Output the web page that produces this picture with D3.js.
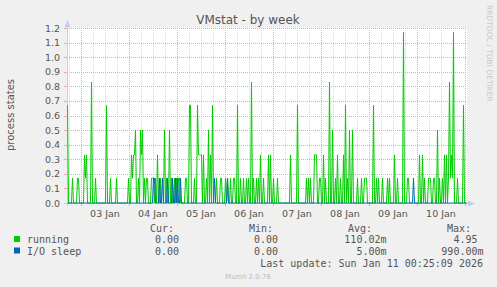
<!DOCTYPE html>
<html>
<head>
<meta charset="utf-8">
<script src="https://cdn.jsdelivr.net/npm/d3@7"></script>
<style>
  html, body { margin: 0; padding: 0; background: #f0f0f0; }
  svg { display: block; }
</style>
</head>
<body>
<div class="main-container"></div>
<script>
// 30 minute samples, 2026-01-02 17:00 UTC .. 2026-01-11 01:00 UTC
const sampleStart = Date.UTC(2026, 0, 2, 17, 0);
const sampleEnd = Date.UTC(2026, 0, 11, 1, 0);
const stepMs = 30 * 60 * 1000;

const running = [
  .67,0,0,0,0,.17,0,0,0,0,.17,.17,0,0,0,0,0,.33,.17,.33,
  0,0,0,0,.83,0,0,0,.17,0,0,0,0,0,0,0,0,0,0,.67,
  0,0,0,.17,0,0,0,0,0,.17,0,0,0,0,0,0,0,0,0,0,
  0,.17,0,0,.33,.17,.33,.33,.5,0,0,.17,0,.5,.33,.5,0,.17,0,.17,
  .17,0,0,0,.17,.17,.17,0,.17,0,.33,0,0,.17,0,0,0,.5,0,.17,
  0,0,.5,0,.17,0,0,.17,0,.17,0,.17,.17,0,0,0,0,0,.17,.17,
  0,0,.67,.67,0,0,0,.17,0,0,.67,.33,.33,.33,.33,0,.33,0,0,.17,
  0,.5,0,.33,0,.67,0,0,0,.17,0,0,0,.17,.17,0,0,0,.17,0,
  .17,0,0,.17,0,0,.17,.17,0,0,.67,0,0,.17,0,0,.17,0,0,.17,
  0,.17,0,0,.83,0,.17,0,0,.17,0,.17,0,.33,0,0,.17,0,0,0,
  0,.33,0,.33,0,0,.17,0,0,0,.17,0,0,0,0,0,0,0,0,0,
  0,0,0,.33,0,0,0,0,0,0,.67,0,0,0,0,0,0,0,0,.17,
  0,.17,0,.17,0,0,0,.33,.33,.33,0,0,.17,.17,0,0,.33,0,.17,0,
  0,0,.83,0,0,.5,0,0,.17,0,.33,0,0,.17,0,0,.33,0,.67,0,
  .17,0,.5,0,0,.5,0,0,0,0,.17,0,0,0,.17,0,0,.17,.17,.17,
  0,0,0,0,0,0,.67,0,0,.17,0,.17,0,0,0,.17,0,0,0,0,
  .17,0,.17,0,0,0,0,.33,0,0,.17,0,0,0,0,0,1.17,0,0,0,
  .17,.17,0,0,0,0,0,0,0,0,0,0,.33,0,0,.33,0,.17,0,0,
  0,.17,.17,.17,0,0,.17,.17,0,0,.5,0,.17,0,0,.17,0,.33,0,.33,
  0,.17,.83,.17,.33,.17,1.17,0,0,0,.17,0,0,0,0,0,.67,0,0,0
];

const ioSleep = [
  0,0,0,0,0,0,0,0,0,0,0,0,0,0,0,0,0,0,0,0,
  0,0,0,0,0,0,0,0,0,0,0,0,0,0,0,0,0,0,0,0,
  0,0,0,0,0,0,0,0,0,0,0,0,0,0,0,0,0,0,0,0,
  0,0,0,0,0,0,0,0,0,0,0,0,0,0,0,0,0,0,0,0,
  0,0,0,0,0,0,.17,.17,0,0,0,0,.17,0,0,.17,0,0,0,0,
  .17,0,0,0,0,.17,0,0,.17,0,.17,0,0,.17,0,0,0,0,0,0,
  0,0,0,0,0,0,0,0,0,0,0,0,0,0,0,0,0,0,0,0,
  0,0,0,0,0,0,0,.17,0,0,0,0,0,0,0,0,0,0,0,0,
  .17,0,0,0,0,0,0,0,0,0,0,0,0,0,0,0,0,0,0,0,
  0,0,0,0,0,0,0,0,0,0,0,0,0,0,0,0,0,0,0,0,
  0,0,0,0,0,0,0,0,0,0,0,0,0,0,0,0,0,0,0,0,
  0,0,0,0,0,0,0,0,0,0,0,0,0,0,0,0,0,0,0,0,
  0,0,0,0,0,0,0,0,0,0,0,0,0,0,0,0,0,0,0,0,
  0,0,0,0,0,0,0,0,0,0,0,0,0,0,0,0,0,0,0,0,
  0,0,0,0,0,0,0,0,0,0,0,0,0,0,0,0,0,0,0,0,
  0,0,0,0,0,0,0,0,0,0,0,0,0,0,0,0,0,0,0,0,
  0,0,0,0,0,0,0,0,0,0,0,0,0,0,0,0,0,0,0,0,
  0,0,0,0,0,0,.17,0,0,0,0,0,0,0,0,0,0,0,0,0,
  0,0,0,0,0,0,0,0,0,0,0,0,0,0,0,0,0,0,0,0,
  0,0,0,0,0,0,0,0,0,0,0,0,0,0,0,0,0,0,0,0
];

const yTicks = [0, 0.1, 0.2, 0.3, 0.4, 0.5, 0.6, 0.7, 0.8, 0.9, 1.0, 1.1, 1.2];

const seriesNames = ["running", "I/O sleep"];
const seriesColors = ["#00cc00", "#0066b3"];
const legendCur = ["0.00 ", "0.00 "];
const legendMin = ["0.00 ", "0.00 "];
const legendAvg = ["110.02m", "5.00m"];
const legendMax = ["4.95 ", "990.00m"];

let width = 497,
  height = 287;

const svg = d3.select(".main-container")
  .append("svg")
  .attr("width", width)
  .attr("height", height);

svg.append("rect")
  .attr("width", width)
  .attr("height", height)
  .attr("fill", "#f0f0f0");

let x = d3.scaleUtc()
  .domain([sampleStart, sampleEnd])
  .range([67, 467]);

let y = d3.scaleLinear()
  .domain([0, 1.2])
  .range([203, 28]);

// plot background
svg.append("rect")
  .attr("x", x.range()[0])
  .attr("y", y(1.2))
  .attr("width", x.range()[1] - x.range()[0])
  .attr("height", y(0) - y(1.2))
  .attr("fill", "#ffffff");

const grid = svg.append("g")
  .attr("shape-rendering", "crispEdges");

// minor vertical grid, every 6h
grid.selectAll("line.minor")
  .data(d3.utcHour.every(6).range(new Date(sampleStart), new Date(sampleEnd)))
  .enter().append("line")
  .attr("class", "minor")
  .attr("x1", d => Math.round(x(d)) + 0.5)
  .attr("x2", d => Math.round(x(d)) + 0.5)
  .attr("y1", y(0))
  .attr("y2", y(1.2))
  .attr("stroke", "#d8d8d8")
  .attr("stroke-dasharray", "1,1");

// major vertical grid, every day
const days = d3.utcDay.range(new Date(sampleStart), new Date(sampleEnd));
grid.selectAll("line.major")
  .data(days)
  .enter().append("line")
  .attr("class", "major")
  .attr("x1", d => Math.round(x(d)) + 0.5)
  .attr("x2", d => Math.round(x(d)) + 0.5)
  .attr("y1", y(0))
  .attr("y2", y(1.2))
  .attr("stroke", "#e6a8a8")
  .attr("stroke-dasharray", "1,1");

// horizontal grid
grid.selectAll("line.h")
  .data(yTicks.slice(1))
  .enter().append("line")
  .attr("class", "h")
  .attr("x1", x.range()[0])
  .attr("x2", x.range()[1])
  .attr("y1", d => Math.round(y(d)) + 0.5)
  .attr("y2", d => Math.round(y(d)) + 0.5)
  .attr("stroke", "#e6a8a8")
  .attr("stroke-dasharray", "1,1");

// ticks on axes
grid.selectAll("line.ytick")
  .data(yTicks)
  .enter().append("line")
  .attr("x1", 64)
  .attr("x2", 67)
  .attr("y1", d => Math.round(y(d)) + 0.5)
  .attr("y2", d => Math.round(y(d)) + 0.5)
  .attr("stroke", "#e6a8a8");

grid.selectAll("line.xtick")
  .data(days)
  .enter().append("line")
  .attr("x1", d => Math.round(x(d)) + 0.5)
  .attr("x2", d => Math.round(x(d)) + 0.5)
  .attr("y1", 203)
  .attr("y2", 206)
  .attr("stroke", "#e6a8a8");

// axis lines and arrows
const axisColor = "#c4ccf0";
svg.append("line")
  .attr("x1", 67.5).attr("x2", 67.5)
  .attr("y1", 206).attr("y2", 22)
  .attr("stroke", axisColor);
svg.append("path")
  .attr("d", "M64.5,27 L67.5,20 L70.5,27 Z")
  .attr("fill", axisColor);
svg.append("line")
  .attr("x1", 64).attr("x2", 471)
  .attr("y1", 203.5).attr("y2", 203.5)
  .attr("stroke", axisColor);
svg.append("path")
  .attr("d", "M468,200.5 L475,203.5 L468,206.5 Z")
  .attr("fill", axisColor);

// series
const line = d3.line()
  .x((d, i) => x(sampleStart + i * stepMs) + 0.5)
  .y(d => y(d));

[running, ioSleep].forEach((values, k) => {
  svg.append("path")
    .datum(values)
    .attr("fill", "none")
    .attr("stroke", seriesColors[k])
    .attr("stroke-width", 1)
    .attr("d", line);
});

// y labels
svg.selectAll("text.ylab")
  .data(yTicks)
  .enter().append("text")
  .attr("x", 60)
  .attr("y", d => y(d) + 3.5)
  .attr("text-anchor", "end")
  .attr("font-family", "DejaVu Sans")
  .attr("font-size", 9.5)
  .attr("fill", "#555")
  .text(d => d.toFixed(1));

// x labels at noon
svg.selectAll("text.xlab")
  .data(days.filter(d => +d3.utcHour.offset(d, 12) < sampleEnd))
  .enter().append("text")
  .attr("x", d => x(d3.utcHour.offset(d, 12)))
  .attr("y", 217)
  .attr("text-anchor", "middle")
  .attr("font-family", "DejaVu Sans")
  .attr("font-size", 9.5)
  .attr("fill", "#555")
  .text(d => d3.utcFormat("%d %b")(d));

// title
svg.append("text")
  .attr("x", 248)
  .attr("y", 23.5)
  .attr("text-anchor", "middle")
  .attr("font-family", "DejaVu Sans")
  .attr("font-size", 12)
  .attr("fill", "#555")
  .text("VMstat - by week");

// y axis title
svg.append("text")
  .attr("transform", "translate(14,115) rotate(-90)")
  .attr("text-anchor", "middle")
  .attr("font-family", "DejaVu Sans")
  .attr("font-size", 10)
  .attr("fill", "#555")
  .text("process states");

// rrdtool credit
svg.append("text")
  .attr("transform", "translate(486.5,5) rotate(90)")
  .attr("text-anchor", "start")
  .attr("font-family", "DejaVu Sans")
  .attr("font-size", 7.5)
  .attr("fill", "#c8c8c8")
  .text("RRDTOOL / TOBI OETIKER");

// legend
const mono = "DejaVu Sans Mono";
const charW = 6.02;
const legend = svg.append("g")
  .attr("font-family", mono)
  .attr("font-size", 10)
  .attr("fill", "#555");

[["Cur:", 150], ["Min:", 249], ["Avg:", 348], ["Max:", 447]].forEach(h => {
  legend.append("text").attr("x", h[1]).attr("y", 231.5).text(h[0]);
});

const cols = [[legendCur, 185], [legendMin, 284], [legendAvg, 386.5], [legendMax, 483.5]];
seriesNames.forEach((name, k) => {
  const rowY = 243 + k * 11.5;
  legend.append("rect")
    .attr("x", 14).attr("y", rowY - 7)
    .attr("width", 6).attr("height", 6)
    .attr("fill", seriesColors[k]);
  legend.append("text").attr("x", 27).attr("y", rowY).text(name);
  cols.forEach(c => {
    const s = c[0][k];
    const trimmed = s.replace(/\s+$/, "");
    legend.append("text")
      .attr("x", c[1] - (s.length - trimmed.length) * charW)
      .attr("y", rowY)
      .attr("text-anchor", "end")
      .text(trimmed);
  });
});

legend.append("text")
  .attr("x", 483)
  .attr("y", 266.5)
  .attr("text-anchor", "end")
  .text("Last update: Sun Jan 11 00:25:09 2026");

svg.append("text")
  .attr("x", 248)
  .attr("y", 279)
  .attr("text-anchor", "middle")
  .attr("font-family", "DejaVu Sans")
  .attr("font-size", 7)
  .attr("fill", "#bbb")
  .text("Munin 2.0.76");
</script>
</body>
</html>
